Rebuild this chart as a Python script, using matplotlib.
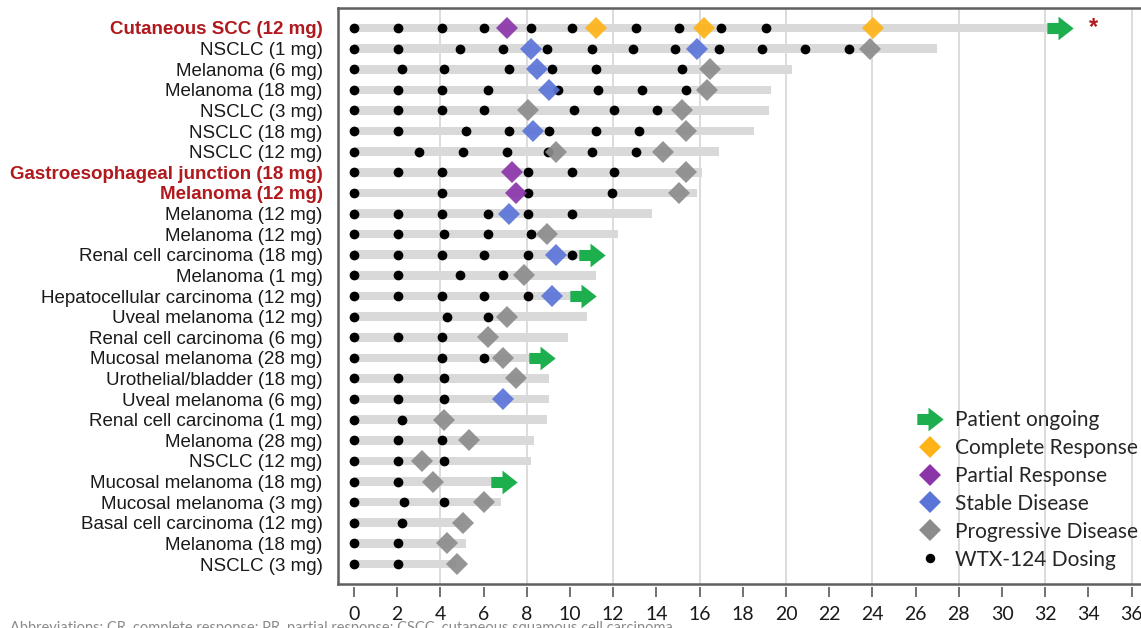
import matplotlib
matplotlib.use("Agg")
import matplotlib.pyplot as plt
from matplotlib.path import Path
from matplotlib.lines import Line2D
import numpy as np

labels = [
    "Cutaneous SCC (12 mg)", "NSCLC (1 mg)", "Melanoma (6 mg)", "Melanoma (18 mg)",
    "NSCLC (3 mg)", "NSCLC (18 mg)", "NSCLC (12 mg)", "Gastroesophageal junction (18 mg)",
    "Melanoma (12 mg)", "Melanoma (12 mg)", "Melanoma (12 mg)", "Renal cell carcinoma (18 mg)",
    "Melanoma (1 mg)", "Hepatocellular carcinoma (12 mg)", "Uveal melanoma (12 mg)",
    "Renal cell carcinoma (6 mg)", "Mucosal melanoma (28 mg)", "Urothelial/bladder (18 mg)",
    "Uveal melanoma (6 mg)", "Renal cell carcinoma (1 mg)", "Melanoma (28 mg)", "NSCLC (12 mg)",
    "Mucosal melanoma (18 mg)", "Mucosal melanoma (3 mg)", "Basal cell carcinoma (12 mg)",
    "Melanoma (18 mg)", "NSCLC (3 mg)",
]
highlight_rows = [0, 7, 8]

durations = [32.1, 27.0, 20.3, 19.3, 19.2, 18.5, 16.9, 16.1, 15.9, 13.8, 12.2, 10.5,
             11.2, 10.1, 10.8, 9.9, 8.2, 9.05, 9.05, 8.95, 8.35, 8.2, 6.4, 6.8, 5.05, 5.2, 4.7]

dosing = [
    [0, 2.05, 4.06, 6.03, 8.2, 10.08, 13.06, 15.05, 17.0, 19.06],
    [0, 2.05, 4.91, 6.88, 8.92, 11.03, 12.9, 14.85, 16.9, 18.9, 20.9, 22.9],
    [0, 2.2, 4.18, 7.19, 9.18, 11.19, 15.17],
    [0, 2.05, 4.06, 6.19, 9.46, 11.31, 13.32, 15.35],
    [0, 2.05, 4.06, 6.03, 10.2, 12.04, 14.04],
    [0, 2.05, 5.19, 7.19, 9.04, 11.2, 13.19],
    [0, 3.03, 5.03, 7.07, 9.0, 11.03, 13.06],
    [0, 2.05, 4.06, 8.04, 10.08, 12.04],
    [0, 4.06, 8.04, 11.93],
    [0, 2.05, 4.06, 6.19, 8.04, 10.08],
    [0, 2.05, 4.18, 6.19, 8.2],
    [0, 2.05, 4.06, 6.03, 8.04, 10.08],
    [0, 2.05, 4.91, 6.88],
    [0, 2.05, 4.06, 6.03, 8.04],
    [0, 4.32, 6.19],
    [0, 2.05, 4.06],
    [0, 4.06, 6.03],
    [0, 2.05, 4.18],
    [0, 2.05, 4.18],
    [0, 2.2],
    [0, 2.05, 4.06],
    [0, 2.05, 4.18],
    [0, 2.05],
    [0, 2.33, 4.18],
    [0, 2.2],
    [0, 2.05],
    [0, 2.05],
]

cr_rows = [0, 0, 0]
cr_x = [11.2, 16.2, 24.05]
pr_rows = [0, 7, 8]
pr_x = [7.07, 7.3, 7.48]
sd_rows = [1, 1, 2, 3, 5, 9, 11, 13, 18]
sd_x = [8.2, 15.9, 8.46, 9.03, 8.3, 7.19, 9.35, 9.18, 6.88]
pd_rows = [1, 2, 3, 4, 4, 5, 6, 6, 7, 8, 10, 12, 14, 15, 16, 17, 19, 20, 21, 22, 23, 24, 25, 26]
pd_x = [23.9, 16.48, 16.33, 8.04, 15.17, 15.35, 9.35, 14.32, 15.35, 15.05, 8.92, 7.89, 7.07,
        6.19, 6.91, 7.48, 4.18, 5.32, 3.16, 3.64, 6.03, 5.03, 4.32, 4.78]
ongoing_rows = [0, 11, 13, 16, 22]
ongoing_x = [32.7, 11.0, 10.6, 8.7, 6.95]

xticks = list(range(0, 37, 2))
grid_x = list(range(4, 37, 4))

C_CR = "#FFB319"
C_PR = "#8B35A8"
C_SD = "#5B74D8"
C_PD = "#8C8C8C"
C_ON = "#1DAF4E"
C_RED = "#B0191E"
C_BAR = "#D9D9D9"

arrow_path = Path([(-1, -0.42), (-0.15, -0.42), (-0.15, -0.9), (1, 0), (-0.15, 0.9),
                   (-0.15, 0.42), (-1, 0.42), (-1, -0.42)],
                  [Path.MOVETO] + [Path.LINETO] * 6 + [Path.CLOSEPOLY])

W, H = 1141, 628
fig = plt.figure(figsize=(W / 100, H / 100), dpi=100)
x0_px, unit_px = 354.0, 21.6
xmin, xmax = -0.74, 37.5
ax_left = (x0_px + xmin * unit_px) / W
ax_w = (xmax - xmin) * unit_px / W
ax_bottom = (H - 584) / H
ax_top = (H - 8) / H
ax = fig.add_axes([ax_left, ax_bottom, ax_w, ax_top - ax_bottom])

n = len(labels)
y = np.arange(n)

for gx in grid_x:
    ax.axvline(gx, color="#DCDCDC", lw=1.4, zorder=0)

ax.barh(y, durations, left=0, height=0.42, color=C_BAR, zorder=1)

for i, xs in enumerate(dosing):
    ax.plot(xs, [i] * len(xs), "o", color="black", ms=6, mec="black", zorder=3, lw=0)

dms = 10.8
ax.plot(pd_x, pd_rows, "D", ls="none", color=C_PD, ms=dms, mew=0, alpha=0.92, zorder=4)
ax.plot(sd_x, sd_rows, "D", ls="none", color=C_SD, ms=dms, mew=0, alpha=0.92, zorder=4)
ax.plot(pr_x, pr_rows, "D", ls="none", color=C_PR, ms=dms, mew=0, alpha=0.92, zorder=4)
ax.plot(cr_x, cr_rows, "D", ls="none", color=C_CR, ms=dms, mew=0, alpha=0.92, zorder=4)
ax.plot(ongoing_x, ongoing_rows, marker=arrow_path, ls="none", color=C_ON, ms=19, mew=0, zorder=5)

ax.text(34.25, 0, "*", color=C_RED, fontsize=17, fontweight="bold",
        ha="center", va="center", family="Liberation Sans", zorder=5)

ax.set_xlim(xmin, xmax)
ax.set_ylim(n - 1 + 0.97, -0.97)

ax.tick_params(axis="y", length=0, pad=11)
ax.tick_params(axis="x", direction="out", length=7.5, width=1.2, color="#595959", pad=6,
               labelsize=14, labelcolor="#1a1a1a", labelfontfamily="Lato")

ax.set_yticks(y)
ax.set_yticklabels(labels, family="Liberation Sans", fontsize=13.5, color="#1a1a1a")
for r in highlight_rows:
    t = ax.get_yticklabels()[r]
    t.set_color(C_RED)
    t.set_fontweight("bold")

ax.set_xticks(xticks)
ax.set_xticklabels([str(v) for v in xticks])
for t in ax.get_xticklabels():
    t.set_fontfamily("Lato")
    t.set_fontsize(14)

spine_c = "#5f5f5f"
for s in ["left", "top", "right"]:
    ax.spines[s].set_color(spine_c)
    ax.spines[s].set_linewidth(1.8)
ax.spines["bottom"].set_position(("outward", 2.5))
ax.spines["bottom"].set_visible(False)
ax.plot([0, 1], [0, 0], transform=ax.transAxes, color=spine_c, lw=1.8, clip_on=False, zorder=6)

handles = [
    Line2D([], [], marker=arrow_path, ls="none", color=C_ON, ms=19, mew=0),
    Line2D([], [], marker="D", ls="none", color=C_CR, ms=dms, mew=0),
    Line2D([], [], marker="D", ls="none", color=C_PR, ms=dms, mew=0),
    Line2D([], [], marker="D", ls="none", color=C_SD, ms=dms, mew=0),
    Line2D([], [], marker="D", ls="none", color=C_PD, ms=dms, mew=0),
    Line2D([], [], marker="o", ls="none", color="black", ms=5.8),
]
leg_labels = ["Patient ongoing", "Complete Response", "Partial Response",
              "Stable Disease", "Progressive Disease", "WTX-124 Dosing"]
leg = fig.legend(handles, leg_labels, loc="upper left",
                 bbox_to_anchor=(915 / W, 1 - 410 / H), frameon=False,
                 prop={"family": "Lato", "size": 15}, labelspacing=0.38,
                 handlelength=1.4, handletextpad=0.5, borderpad=0, borderaxespad=0)
for t in leg.get_texts():
    t.set_color("#262626")

fig.text(10 / W, 1 - 621 / H,
         "Abbreviations: CR, complete response; PR, partial response; CSCC, cutaneous squamous cell carcinoma.",
         family="Lato", fontsize=10.5, color="#8a8a8a", ha="left", va="top")

fig.savefig("out.png", dpi=100)
